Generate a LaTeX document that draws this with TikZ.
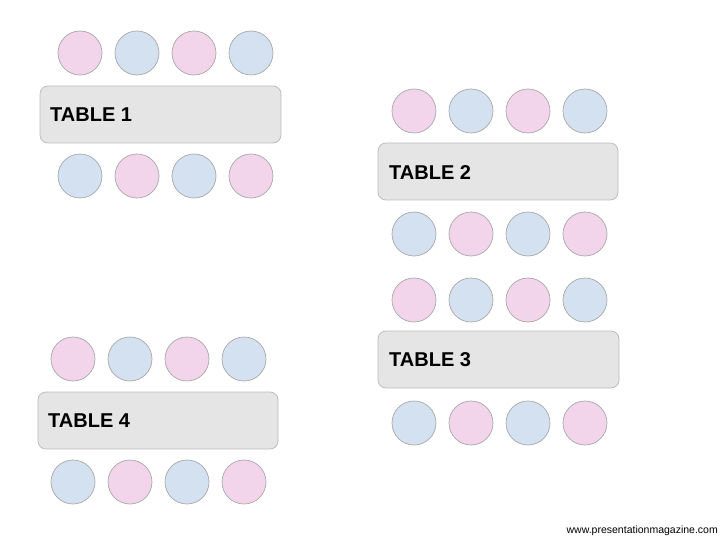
\documentclass[tikz,border=0pt]{standalone}
\usepackage{fontspec}
\setmainfont{Liberation Sans}
\definecolor{seatpink}{HTML}{F2D4EB}
\definecolor{seatblue}{HTML}{D4E1F1}
\definecolor{seatedge}{HTML}{A8A8A8}
\definecolor{tablefill}{HTML}{E5E5E5}
\definecolor{tableedge}{HTML}{BDBDBD}
\begin{document}
\begin{tikzpicture}[x=1pt,y=-1pt,
  seat/.style={circle,draw=seatedge,line width=0.7pt,minimum size=44pt,inner sep=0pt},
  ps/.style={seat,fill=seatpink},
  bs/.style={seat,fill=seatblue},
  tablebox/.style={draw=tableedge,fill=tablefill,line width=0.8pt,rounded corners=8pt},
  tlabel/.style={anchor=west,inner sep=0pt,font=\fontsize{20}{22}\selectfont\bfseries}]
\useasboundingbox (0,0) rectangle (720,540);
% Table 1
\node[ps] (t1a) at (80,53) {}; \node[bs] (t1b) at (137,53) {};
\node[ps] (t1c) at (194,53) {}; \node[bs] (t1d) at (251,53) {};
\draw[tablebox] (40,86) rectangle (281,143);
\node[tlabel] (l1) at (50,115) {TABLE 1};
\node[bs] (t1e) at (80,176) {}; \node[ps] (t1f) at (137,176) {};
\node[bs] (t1g) at (194,176) {}; \node[ps] (t1h) at (251,176) {};
% Table 2
\node[ps] (t2a) at (414,111) {}; \node[bs] (t2b) at (471,111) {};
\node[ps] (t2c) at (528,111) {}; \node[bs] (t2d) at (585,111) {};
\draw[tablebox] (378,143) rectangle (618,200);
\node[tlabel] (l2) at (389,173) {TABLE 2};
\node[bs] (t2e) at (414,234) {}; \node[ps] (t2f) at (471,234) {};
\node[bs] (t2g) at (528,234) {}; \node[ps] (t2h) at (585,234) {};
% Table 3
\node[ps] (t3a) at (414,300) {}; \node[bs] (t3b) at (471,300) {};
\node[ps] (t3c) at (528,300) {}; \node[bs] (t3d) at (585,300) {};
\draw[tablebox] (378,331) rectangle (619,388);
\node[tlabel] (l3) at (389,360) {TABLE 3};
\node[bs] (t3e) at (414,423) {}; \node[ps] (t3f) at (471,423) {};
\node[bs] (t3g) at (528,423) {}; \node[ps] (t3h) at (585,423) {};
% Table 4
\node[ps] (t4a) at (73,359) {}; \node[bs] (t4b) at (130,359) {};
\node[ps] (t4c) at (187,359) {}; \node[bs] (t4d) at (244,359) {};
\draw[tablebox] (38,392) rectangle (278,449);
\node[tlabel] (l4) at (48,421) {TABLE 4};
\node[bs] (t4e) at (73,482) {}; \node[ps] (t4f) at (130,482) {};
\node[bs] (t4g) at (187,482) {}; \node[ps] (t4h) at (244,482) {};
% footer
\node[anchor=east,inner sep=0pt,font=\fontsize{10.5}{12}\selectfont] (foot) at (718,531) {www.presentationmagazine.com};
\end{tikzpicture}
\end{document}
